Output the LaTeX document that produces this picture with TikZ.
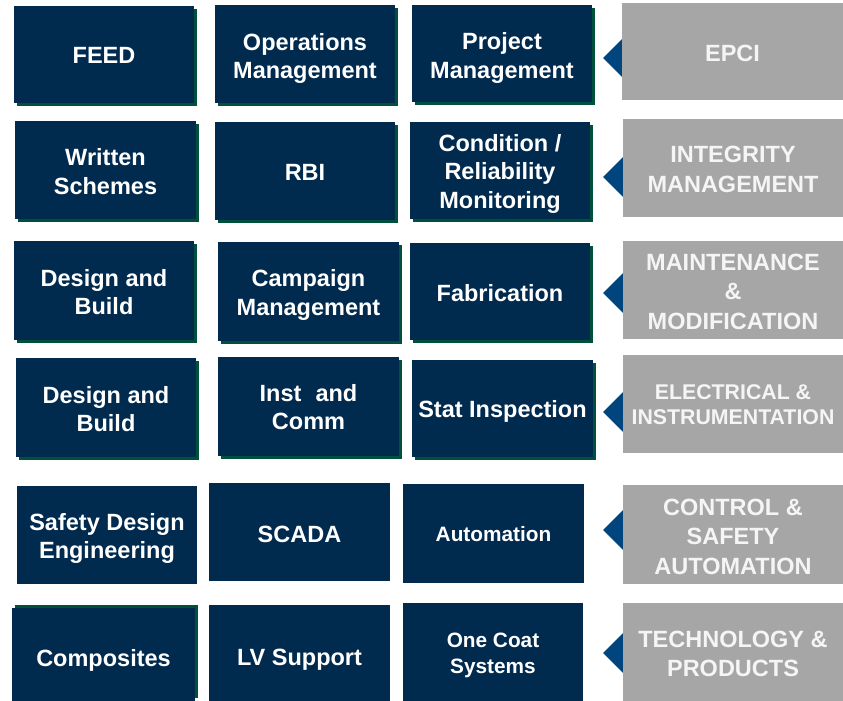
\documentclass[tikz,border=0pt]{standalone}
\usepackage{fontspec}
\setmainfont{Liberation Sans}
\usetikzlibrary{shadows}
\definecolor{navy}{RGB}{0,42,78}
\definecolor{shgreen}{RGB}{0,80,60}
\definecolor{tricol}{RGB}{0,69,125}
\definecolor{greybox}{RGB}{166,166,166}
\definecolor{greytext}{RGB}{245,245,245}
\begin{document}
\begin{tikzpicture}[x=1pt,y=-1pt,
  bx/.style={fill=navy, inner sep=0pt, anchor=center},
  gb/.style={fill=greybox, inner sep=0pt, anchor=center},
  lb/.style={text=white, font=\bfseries\fontsize{23.5}{28.5}\selectfont, align=center, inner sep=0pt},
  lg/.style={text=greytext, font=\bfseries\fontsize{23.5}{29.5}\selectfont, align=center, inner sep=0pt},
  smallfont/.style={font=\bfseries\fontsize{20.8}{25.5}\selectfont},
  elecfont/.style={font=\bfseries\fontsize{21.3}{25}\selectfont},
  shdown/.style={drop shadow={shadow xshift=3pt, shadow yshift=-3pt, fill=shgreen, opacity=1}},
  shup/.style={drop shadow={shadow xshift=3pt, shadow yshift=3pt, fill=shgreen, opacity=1}},
  sz/.style 2 args={minimum width=#1pt, minimum height=#2pt},
  tri/.style={fill=tricol}]
\useasboundingbox (0,0) rectangle (843,701);
\fill[white] (0,0) rectangle (843,701);

% triangles (drawn first; grey boxes cover their bases)
\fill[tri] (603,58) -- (625,36) -- (625,80) -- cycle;
\fill[tri] (603,177) -- (625,155) -- (625,199) -- cycle;
\fill[tri] (603,293) -- (625,271) -- (625,315) -- cycle;
\fill[tri] (603,412) -- (625,390) -- (625,434) -- cycle;
\fill[tri] (603,530) -- (625,508) -- (625,552) -- cycle;
\fill[tri] (603,653) -- (625,631) -- (625,675) -- cycle;

% row 1
\node[bx, shdown, sz={180}{97}, label={[lb, yshift=-1pt]center:{FEED}}] (feed) at (104,54.5) {};
\node[bx, shdown, sz={180}{98}, label={[lb, yshift=-4.5pt]center:{Operations\\Management}}] (ops) at (305,54) {};
\node[bx, shdown, sz={180}{97}, label={[lb, yshift=-4.5pt]center:{Project\\Management}}] (proj) at (502,53.5) {};
\node[gb, sz={221}{97}, label={[lg, yshift=-2pt]center:{EPCI}}] (epci) at (732.5,51.5) {};

% row 2
\node[bx, shdown, sz={181}{98}, label={[lb, yshift=-1.5pt]center:{Written\\Schemes}}] (ws) at (105.5,170) {};
\node[bx, shdown, sz={180}{98}, label={[lb, yshift=-1pt]center:{RBI}}] (rbi) at (305,171) {};
\node[bx, shdown, sz={180}{97}, label={[lb, yshift=-3pt]center:{Condition /\\Reliability\\Monitoring}}] (cond) at (500,170.5) {};
\node[gb, sz={220}{98}, label={[lg, yshift=-1.5pt]center:{INTEGRITY\\MANAGEMENT}}] (integ) at (733,168) {};

% row 3
\node[bx, shdown, sz={180}{99}, label={[lb, yshift=-1.5pt]center:{Design and\\Build}}] (db1) at (104,290.5) {};
\node[bx, shdown, sz={181}{99}, label={[lb, yshift=-3.5pt]center:{Campaign\\Management}}] (camp) at (308.5,291.5) {};
\node[bx, shdown, sz={180}{97}, label={[lb, yshift=-2pt]center:{Fabrication}}] (fab) at (500,291.5) {};
\node[gb, sz={220}{98}, label={[lg, yshift=-1.5pt]center:{MAINTENANCE\\\&\\MODIFICATION}}] (maint) at (733,290) {};

% row 4
\node[bx, shdown, sz={180}{99}, label={[lb, yshift=-1.5pt]center:{Design and\\Build}}] (db2) at (106,407.5) {};
\node[bx, shdown, sz={181}{99}, label={[lb, yshift=-0.5pt]center:{Inst\hspace{0.6em}and\\Comm}}] (inst) at (308.5,406.5) {};
\node[bx, shdown, sz={181}{97}, label={[lb, yshift=-3pt]center:{Stat Inspection}}] (stat) at (502.5,408.5) {};
\node[gb, sz={220}{98}, label={[lg, elecfont, yshift=-1pt]center:{ELECTRICAL \&\\INSTRUMENTATION}}] (elec) at (733,404) {};

% row 5
\node[bx, sz={180}{98}, label={[lb, yshift=-3.5pt]center:{Safety Design\\Engineering}}] (sde) at (107,535) {};
\node[bx, sz={181}{98}, label={[lb, yshift=-2pt]center:{SCADA}}] (scada) at (299.5,532) {};
\node[bx, sz={181}{99}, label={[lb, smallfont, yshift=-1pt]center:{Automation}}] (auto) at (493.5,533.5) {};
\node[gb, sz={220}{99}, label={[lg, yshift=-2pt]center:{CONTROL \&\\SAFETY\\AUTOMATION}}] (ctrl) at (733,534.5) {};

% row 6
\node[bx, shup, sz={183}{93}, label={[lb, yshift=-6pt]center:{Composites}}] (comp) at (103.5,654.5) {};
\node[bx, sz={181}{96}, label={[lb, yshift=-7pt]center:{LV Support}}] (lv) at (299.5,653) {};
\node[bx, sz={180}{98}, label={[lb, smallfont, yshift=-3.5pt]center:{One Coat\\Systems}}] (onecoat) at (493,652) {};
\node[gb, sz={220}{98}, label={[lg, yshift=-2pt]center:{TECHNOLOGY \&\\PRODUCTS}}] (tech) at (733,652) {};
\end{tikzpicture}
\end{document}
